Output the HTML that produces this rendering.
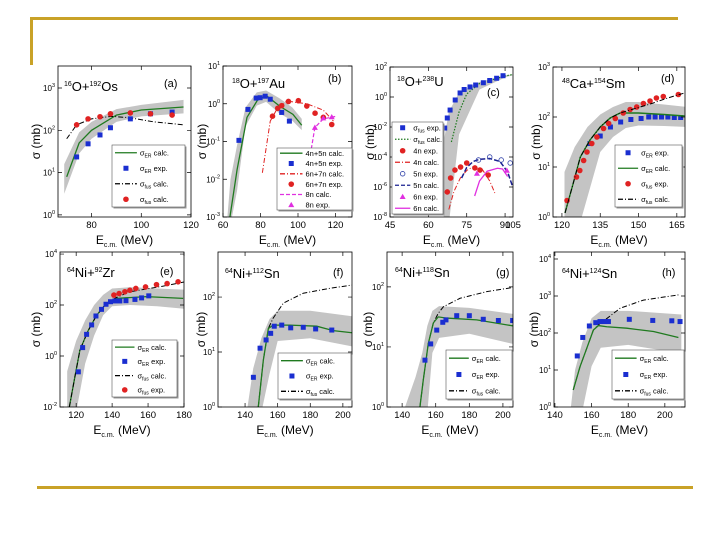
<!DOCTYPE html>
<html><head><meta charset="utf-8"><style>
html,body{margin:0;padding:0;background:#fff;}
svg{display:block;font-family:"Liberation Sans",sans-serif;}
</style></head><body>
<svg id="fig" width="720" height="540" viewBox="0 0 720 540" xmlns="http://www.w3.org/2000/svg">
<rect x="0" y="0" width="720" height="540" fill="#fff"/>
<rect x="30" y="17" width="648" height="3" fill="#c9a227"/>
<rect x="30" y="17" width="3" height="48" fill="#c9a227"/>
<rect x="37" y="486" width="656" height="3" fill="#c9a227"/>
</svg>
<script>
// ---- data (E in MeV, values are log10 of sigma in mb) ----
const aGreenE=[70,75,80,90,100,117];
const aGreenL=[0.9,1.7,2.0,2.36,2.48,2.55];
const aBlueE=[74,78.6,83.4,87.6,95.6,103.7,112.4];
const aBlueL=[1.37,1.68,1.89,2.06,2.27,2.39,2.43];
const aRedE=[74,78.6,83.4,87.6,95.6,103.7,112.4];
const aRedL=[2.13,2.27,2.32,2.39,2.41,2.39,2.36];
const aFusE=[70,74,80,88,95,105,117];
const aFusL=[1.8,2.13,2.27,2.33,2.3,2.2,2.13];
const aBandE=[69,75,80,90,100,117];
const aBandHi=[1.2,1.95,2.2,2.5,2.6,2.72];
const aBandLo=[0.5,1.45,1.8,2.2,2.33,2.4];

const bGreenE=[63.7,67.5,72.8,78.7,83.5,90.4,97.3,102];
const bGreenL=[-3,-1.75,-0.36,0.12,0.2,-0.07,-0.28,-0.57];
const bBlueE=[68.5,73.3,77.7,79.8,82.5,85.2,91.3,95.4];
const bBlueL=[-0.97,-0.15,0.15,0.16,0.2,0.12,-0.23,-0.46];
const bRedCalcE=[81,85.2,88.7,94,104.7,113.5,118.9];
const bRedCalcL=[-1.83,-0.46,-0.15,0.07,0,-0.17,-0.46];
const bRedE=[86.4,89.2,91.3,94.9,100.2,104.7,109.1,113.5,118];
const bRedL=[-0.33,-0.12,-0.05,0.06,0.08,-0.06,-0.25,-0.36,-0.55];
const bMagCalcE=[105.5,109,113.5,120.6];
const bMagCalcL=[-1.67,-0.63,-0.4,-0.33];
const bMagE=[109,113.5,118];
const bMagL=[-0.63,-0.38,-0.35];
const bBandE=[62,64,67.5,72,78,83,90,97,102];
const bBandHi=[-3.2,-2,-1.1,-0.1,0.3,0.35,0.15,-0.1,-0.4];
const bBandLo=[-3.2,-3.2,-2.3,-0.6,-0.05,0.05,-0.25,-0.45,-0.7];

const cBlueE=[66.4,67.4,68.5,70.5,72.4,74,76.3,78.5,81.5,84,86.7,89.2];
const cBlueL=[-2.07,-1.4,-0.87,-0.2,0.27,0.5,0.67,0.8,0.95,1.1,1.25,1.42];
const cGreenE=[69,72,75,80,90,93];
const cGreenL=[-3,-1,0.2,0.9,1.4,1.5];
const cBandE=[66,68,72,80,90,93];
const cBandHi=[-3,-1,0.3,1.0,1.45,1.5];
const cBandLo=[-8.5,-8.5,-2.5,0.5,1.3,1.45];
const c4nE=[67.4,68.7,70.4,72.6,75,78.2,80.2,83.4];
const c4nL=[-6.33,-5.4,-4.87,-4.67,-4.4,-4.73,-4.87,-5.2];
const c4nCalcE=[68,70,72.5,75,78,81,84,86];
const c4nCalcL=[-7.5,-6.3,-5.4,-4.9,-4.6,-4.8,-5.6,-6.4];
const c5nCalcE=[73,75,77.5,80,84,88,91,93];
const c5nCalcL=[-5.4,-4.7,-4.3,-4.15,-4.1,-4.3,-5.0,-6.0];
const c5nE=[79.6,84,88.5,92];
const c5nL=[-4.2,-4.0,-4.2,-4.4];
const c6nCalcE=[78.1,80,83,87,89,91];
const c6nCalcL=[-6.6,-5.6,-4.95,-4.75,-4.8,-5.3];
const c6nE=[79,90.7];
const c6nL=[-5.1,-4.9];

const dFusCalcE=[121.2,124.4,127.2,131,135,138.9,142.8,148,154.6,161.4,168];
const dFusCalcL=[0.08,0.67,1.2,1.54,1.8,1.98,2.08,2.16,2.26,2.38,2.48];
const dGreenE=[121.2,124.4,127.2,131,135,138.9,142.8,150,160,168];
const dGreenL=[0.08,0.67,1.2,1.54,1.8,1.98,2.08,2.08,2.05,2.02];
const dBlueE=[131,135,139,143,147,151,154,156.5,159,161.5,164,166.5];
const dBlueL=[1.47,1.62,1.8,1.9,1.95,1.97,2.0,2.0,2.0,2.0,1.99,1.99];
const dRedE=[122,125.7,127,128.5,129.8,131.7,133.7,136.3,138.3,140.9,144,146.7,149.3,151.9,154.5,157,159.7,165.6];
const dRedL=[0.33,0.8,0.93,1.13,1.3,1.47,1.6,1.77,1.87,1.97,2.08,2.15,2.2,2.27,2.32,2.38,2.41,2.45];
const dBandE=[121,125,130,135,140,145,150,160,169];
const dBandHi=[0.9,1.4,1.8,2.05,2.2,2.3,2.3,2.25,2.2];
const dBandLo=[-1,-0.5,0.4,1.3,1.6,1.78,1.83,1.82,1.8];

const eGreenE=[116.2,119.3,122.1,126.7,131.4,136.9,142.5,159,179.5];
const eGreenL=[-2,-0.81,0.24,1.0,1.6,2.07,2.26,2.33,2.26];
const eFusCalcE=[116.2,119.3,122.1,126.7,131.4,136.9,142.5,149.9,168.4,180.4];
const eFusCalcL=[-2,-0.81,0.24,1.0,1.6,2.07,2.3,2.52,2.74,2.91];
const eBlueE=[121.2,123.6,125.8,128.6,131,134.1,136.6,139.1,141.6,144.3,147.7,152.7,156.4,160.4];
const eBlueL=[-0.62,0.33,0.85,1.22,1.57,1.83,2.03,2.13,2.16,2.16,2.17,2.22,2.28,2.36];
const eRedE=[141,143.9,147.1,149.9,153.2,158.6,164.7,170.6,176.7];
const eRedL=[2.39,2.45,2.52,2.58,2.65,2.71,2.8,2.84,2.91];
const eBandE=[115,120,125,130,135,140,150,165,181];
const eBandHi=[-0.6,0.6,1.4,2.0,2.4,2.65,2.7,2.65,2.6];
const eBandLo=[-2.2,-2.2,-0.3,0.8,1.6,1.95,2.0,1.95,1.85];

const fGreenE=[148.1,151.2,154.3,157.3,167.6,184,187.8,194.1,206];
const fGreenL=[0,0.85,1.43,1.49,1.49,1.47,1.44,1.39,1.35];
const fFusCalcE=[148.1,151.2,154.3,157.3,163.5,175.7,192.1,206];
const fFusCalcL=[0,0.85,1.43,1.62,1.89,2.07,2.16,2.22];
const fBlueE=[145.1,149.2,152.9,155.7,157.9,162.5,168,175.7,183.3,193.2];
const fBlueL=[0.54,1.07,1.22,1.34,1.47,1.49,1.44,1.45,1.42,1.4];
const fBandE=[141,145,150,155,160,180,206];
const fBandHi=[-0.1,0.7,1.25,1.6,1.75,1.75,1.65];
const fBandLo=[-0.1,-0.1,-0.1,0.6,1.2,1.25,1.1];

const gGreenE=[150.6,152.6,155.6,158.6,161.5,166.5,184.4,206];
const gGreenL=[0,0.45,1.06,1.4,1.5,1.48,1.45,1.35];
const gFusCalcE=[150.6,152.6,155.6,158.6,161.5,164.6,174.5,190.3,206];
const gFusCalcL=[0,0.45,1.06,1.4,1.56,1.67,1.81,1.92,1.99];
const gBlueE=[153.6,157,160.6,164.2,166.1,172.5,180,188.3,197.3,205.8];
const gBlueL=[0.78,1.05,1.28,1.41,1.45,1.52,1.52,1.46,1.44,1.44];
const gBandE=[140.5,148,152,155,158,162,180,206];
const gBandHi=[-0.1,0.5,0.9,1.35,1.6,1.68,1.65,1.55];
const gBandLo=[-0.1,-0.1,-0.1,-0.1,0.9,1.15,1.22,1.05];

const hGreenE=[150,153.7,157.4,161,163.7,168.3,179.2,193.8,207.4];
const hGreenL=[0.46,1.09,1.59,2.08,2.2,2.17,2.13,2.04,1.88];
const hFusCalcE=[150,153.7,157.4,161,163.7,168.3,175.6,188.3,207.4];
const hFusCalcL=[0.46,1.09,1.59,2.08,2.22,2.39,2.67,2.89,3.03];
const hBlueE=[152.2,155.2,158.8,162.3,164.6,166.8,169.2,180.6,193.4,203.8,208.3];
const hBlueL=[1.38,1.88,2.19,2.28,2.31,2.31,2.31,2.37,2.34,2.33,2.31];
const hBandE=[148.5,151,155,160,165,180,209];
const hBandHi=[-0.1,1.0,1.75,2.4,2.6,2.6,2.5];
const hBandLo=[-0.1,-0.1,-0.1,1.1,1.6,1.68,1.45];

// ---- layout ----
const NS="http://www.w3.org/2000/svg";
const svg=document.getElementById('fig');
const GREEN="#1f7a1f", BLUE="#1a2ed0", RED="#e02222", MAG="#e030e0", GRAY="#c4c4c4";
let clipId=0;
function el(tag,parent){const e=document.createElementNS(NS,tag);parent.appendChild(e);return e;}

function makePanel(key,box,xr,yr,xticks,yticks,title,tag,titlePos,tagPos,ylabX){
  const [x0,y0,x1,y1]=box;
  const sx=v=>x0+(v-xr[0])/(xr[1]-xr[0])*(x1-x0);
  const sy=v=>y1-(v-yr[0])/(yr[1]-yr[0])*(y1-y0);
  const g=el('g',svg);
  
  
  const cp=el('clipPath',g);const id='cp'+(clipId++);cp.setAttribute('id',id);
  const cr=el('rect',cp);cr.setAttribute('x',x0);cr.setAttribute('y',y0);cr.setAttribute('width',x1-x0);cr.setAttribute('height',y1-y0);
  const plot=el('g',g);plot.setAttribute('clip-path','url(#'+id+')');
  
  
  const fr=el('rect',g);
  fr.setAttribute('x',x0);fr.setAttribute('y',y0);fr.setAttribute('width',x1-x0);fr.setAttribute('height',y1-y0);
  fr.setAttribute('fill','none');fr.setAttribute('stroke','#000');fr.setAttribute('stroke-width','0.8');
  
  
  xticks.forEach(t=>{
    const X=sx(t);
    const l=el('path',g);l.setAttribute('d',`M${X},${y1}v-4M${X},${y0}v4`);l.setAttribute('stroke','#000');l.setAttribute('stroke-width','0.7');
    
    
    const tx=el('text',g);tx.setAttribute('x',X);tx.setAttribute('y',y1+11);tx.setAttribute('text-anchor','middle');tx.setAttribute('font-size','9.5');tx.textContent=t;
    
    
  });
  yticks.forEach(t=>{
    const Y=sy(t);
    const l=el('path',g);l.setAttribute('d',`M${x0},${Y}h4M${x1},${Y}h-4`);l.setAttribute('stroke','#000');l.setAttribute('stroke-width','0.7');
    
    
    const tx=el('text',g);tx.setAttribute('x',x0-3);tx.setAttribute('y',Y+3);tx.setAttribute('text-anchor','end');tx.setAttribute('font-size','8');
    tx.innerHTML='10<tspan dy="-4" font-size="5.5">'+t+'</tspan>';
    
    
  });
  const ti=el('text',g);ti.setAttribute('x',titlePos[0]);ti.setAttribute('y',titlePos[1]);ti.setAttribute('font-size','13');
  ti.innerHTML=title;
  
  
  const tg=el('text',g);tg.setAttribute('x',tagPos[0]);tg.setAttribute('y',tagPos[1]);tg.setAttribute('font-size','11');tg.textContent=tag;
  
  
  const xl=el('text',g);xl.setAttribute('x',(x0+x1)/2);xl.setAttribute('y',y1+27);xl.setAttribute('text-anchor','middle');xl.setAttribute('font-size','12');
  xl.innerHTML='E<tspan dy="3" font-size="7">c.m.</tspan><tspan dy="-3"> (MeV)</tspan>';
  
  
  const yl=el('text',g);const cy=(y0+y1)/2;
  yl.setAttribute('transform',`translate(${ylabX},${cy}) rotate(-90)`);yl.setAttribute('text-anchor','middle');yl.setAttribute('font-size','12');yl.textContent='σ (mb)';
  
  
  return {sx,sy,plot,g};
}
function band(p,E,hi,lo,name){
  let d='M'+E.map((e,i)=>p.sx(e)+','+p.sy(hi[i])).join('L');
  for(let i=E.length-1;i>=0;i--) d+='L'+p.sx(E[i])+','+p.sy(lo[i]);
  const e=el('path',p.plot);e.setAttribute('d',d+'Z');e.setAttribute('fill',GRAY);
  
  
}
function line(p,E,L,color,dash,w,name){
  const e=el('path',p.plot);
  e.setAttribute('d','M'+E.map((v,i)=>p.sx(v)+','+p.sy(L[i])).join('L'));
  e.setAttribute('fill','none');e.setAttribute('stroke',color);e.setAttribute('stroke-width',w||1.3);
  if(dash)e.setAttribute('stroke-dasharray',dash);
  
  
}
function marker(parent,X,Y,type,color){
  let m;
  if(type==='sq'){m=el('rect',parent);m.setAttribute('x',X-2.5);m.setAttribute('y',Y-2.5);m.setAttribute('width',5);m.setAttribute('height',5);m.setAttribute('fill',color);}
  else if(type==='ci'){m=el('circle',parent);m.setAttribute('cx',X);m.setAttribute('cy',Y);m.setAttribute('r',2.8);m.setAttribute('fill',color);}
  else if(type==='oc'){m=el('circle',parent);m.setAttribute('cx',X);m.setAttribute('cy',Y);m.setAttribute('r',2.3);m.setAttribute('fill','none');m.setAttribute('stroke',color);m.setAttribute('stroke-width','0.8');}
  else {m=el('path',parent);m.setAttribute('d',`M${X},${Y-3}L${X+3},${Y+2.3}L${X-3},${Y+2.3}Z`);m.setAttribute('fill',color);}
  return m;
}
function points(p,E,L,type,color,name){
  E.forEach((v,i)=>{
    const m=marker(p.plot,p.sx(v),p.sy(L[i]),type,color);
    
    
  });
}
function legend(p,box,entries,key){
  const [x,y,w,h]=box;
  const g=el('g',p.g);
  
  
  const sh=el('rect',g);sh.setAttribute('x',x+1.5);sh.setAttribute('y',y+1.5);sh.setAttribute('width',w);sh.setAttribute('height',h);sh.setAttribute('fill','#999');
  const r=el('rect',g);r.setAttribute('x',x);r.setAttribute('y',y);r.setAttribute('width',w);r.setAttribute('height',h);r.setAttribute('fill','#fff');r.setAttribute('stroke','#555');r.setAttribute('stroke-width','0.6');
  const step=h/entries.length;
  entries.forEach((en,i)=>{
    const cy=y+step*(i+0.5);
    const eg=el('g',g);
    
    
    if(en.t==='line'){const l=el('path',eg);l.setAttribute('d',`M${x+3},${cy}h${w*0.3}`);l.setAttribute('stroke',en.c);l.setAttribute('stroke-width','1.3');if(en.d)l.setAttribute('stroke-dasharray',en.d);}
    else marker(eg,x+3+w*0.15,cy,en.t,en.c);
    const t=el('text',eg);t.setAttribute('x',x+6+w*0.3);t.setAttribute('y',cy+2.7);t.setAttribute('font-size','7.5');t.innerHTML=en.s;
  });
}
const sER='σ<tspan dy="2" font-size="5">ER</tspan><tspan dy="-2">';
const sFus='σ<tspan dy="2" font-size="5">fus</tspan><tspan dy="-2">';
const DD='5,2,1,2';

// panel a
const pa=makePanel('a',[58,66,191,217],[66.5,120],[-0.05,3.52],[80,100,120],[0,1,2,3],
 '<tspan dy="-5" font-size="7">16</tspan><tspan dy="5">O+</tspan><tspan dy="-5" font-size="7">192</tspan><tspan dy="5">Os</tspan>','(a)',[64,91],[164,87],40);
band(pa,aBandE,aBandHi,aBandLo,'uncertainty-band-a');
line(pa,aGreenE,aGreenL,GREEN,null,1.3,'er-calc-line-a');
line(pa,aFusE,aFusL,'#000',DD,1,'fus-calc-line-a');
points(pa,aBlueE,aBlueL,'sq',BLUE,'er-exp-point-a');
points(pa,aRedE,aRedL,'ci',RED,'fus-exp-point-a');
legend(pa,[112,145,73,62],[{t:'line',c:GREEN,s:sER+' calc.</tspan>'},{t:'sq',c:BLUE,s:sER+' exp.</tspan>'},{t:'line',c:'#000',d:DD,s:sFus+' calc.</tspan>'},{t:'ci',c:RED,s:sFus+' calc.</tspan>'}],'a');

// panel b
const pb=makePanel('b',[223,66,352,217],[60,128.8],[-3,1],[60,80,100,120],[-3,-2,-1,0,1],
 '<tspan dy="-5" font-size="7">18</tspan><tspan dy="5">O+</tspan><tspan dy="-5" font-size="7">197</tspan><tspan dy="5">Au</tspan>','(b)',[232,88],[328,82],206);
band(pb,bBandE,bBandHi,bBandLo,'uncertainty-band-b');
line(pb,bGreenE,bGreenL,GREEN,null,1.3,'4n5n-calc-line');
line(pb,bRedCalcE,bRedCalcL,RED,DD,1,'6n7n-calc-line');
line(pb,bMagCalcE,bMagCalcL,MAG,'4,2',1.2,'8n-calc-line');
points(pb,bBlueE,bBlueL,'sq',BLUE,'4n5n-exp-point');
points(pb,bRedE,bRedL,'ci',RED,'6n7n-exp-point');
points(pb,bMagE,bMagL,'tr',MAG,'8n-exp-point');
legend(pb,[277,148,75,62],[{t:'line',c:GREEN,s:'4n+5n calc.'},{t:'sq',c:BLUE,s:'4n+5n exp.'},{t:'line',c:RED,d:DD,s:'6n+7n calc.'},{t:'ci',c:RED,s:'6n+7n exp.'},{t:'line',c:MAG,d:'4,2',s:'8n calc.'},{t:'tr',c:MAG,s:'8n exp.'}],'b');

// panel c
const pc=makePanel('c',[390,67,513,217],[45,93.1],[-8,2],[45,60,75,90],[-8,-6,-4,-2,0,2],
 '<tspan dy="-5" font-size="7">18</tspan><tspan dy="5">O+</tspan><tspan dy="-5" font-size="7">238</tspan><tspan dy="5">U</tspan>','(c)',[397,86],[487,96],374);
{const t=el('text',pc.g);t.setAttribute('x',513);t.setAttribute('y',228);t.setAttribute('text-anchor','middle');t.setAttribute('font-size','9.5');t.textContent='105';
 
 }
band(pc,cBandE,cBandHi,cBandLo,'uncertainty-band-c');
line(pc,cGreenE,cGreenL,GREEN,'1.5,1.5',1.2,'fus-calc-line-c');
line(pc,c4nCalcE,c4nCalcL,RED,DD,1,'4n-calc-line');
line(pc,c5nCalcE,c5nCalcL,'#1a2090','5,2',1.5,'5n-calc-line');
line(pc,c6nCalcE,c6nCalcL,MAG,null,1.3,'6n-calc-line');
points(pc,cBlueE,cBlueL,'sq',BLUE,'fus-exp-point-c');
points(pc,c4nE,c4nL,'ci',RED,'4n-exp-point');
points(pc,c5nE,c5nL,'oc','#3344aa','5n-exp-point');
points(pc,c6nE,c6nL,'tr',MAG,'6n-exp-point');
legend(pc,[392,122,51,92],[{t:'sq',c:BLUE,s:sFus+' exp.</tspan>'},{t:'line',c:GREEN,d:'1.5,1.5',s:sFus+' calc.</tspan>'},{t:'ci',c:RED,s:'4n exp.'},{t:'line',c:RED,d:DD,s:'4n calc.'},{t:'oc',c:'#3344aa',s:'5n exp.'},{t:'line',c:'#1a2090',d:'4,2',s:'5n calc.'},{t:'tr',c:MAG,s:'6n exp.'},{t:'line',c:MAG,s:'6n calc.'}],'c');

// panel d
const pd=makePanel('d',[553,67,685,217],[116.5,168.2],[0,3],[120,135,150,165],[0,1,2,3],
 '<tspan dy="-5" font-size="7">48</tspan><tspan dy="5">Ca+</tspan><tspan dy="-5" font-size="7">154</tspan><tspan dy="5">Sm</tspan>','(d)',[562,88],[661,82],540);
band(pd,dBandE,dBandHi,dBandLo,'uncertainty-band-d');
points(pd,dBlueE,dBlueL,'sq',BLUE,'er-exp-point-d');
line(pd,dGreenE,dGreenL,GREEN,null,1.4,'er-calc-line-d');
points(pd,dRedE,dRedL,'ci',RED,'fus-exp-point-d');
line(pd,dFusCalcE,dFusCalcL,'#000',DD,1,'fus-calc-line-d');
legend(pd,[615,145,67,62],[{t:'sq',c:BLUE,s:sER+' exp.</tspan>'},{t:'line',c:GREEN,s:sER+' calc.</tspan>'},{t:'ci',c:RED,s:sFus+' exp.</tspan>'},{t:'line',c:'#000',d:DD,s:sFus+' calc.</tspan>'}],'d');

// panel e
const pe=makePanel('e',[60,252,184,407],[111,180],[-2,4.08],[120,140,160,180],[-2,0,2,4],
 '<tspan dy="-5" font-size="7">64</tspan><tspan dy="5">Ni+</tspan><tspan dy="-5" font-size="7">92</tspan><tspan dy="5">Zr</tspan>','(e)',[67,277],[160,275],40);
band(pe,eBandE,eBandHi,eBandLo,'uncertainty-band-e');
line(pe,eGreenE,eGreenL,GREEN,null,1.3,'er-calc-line-e');
line(pe,eFusCalcE,eFusCalcL,'#000',DD,1,'fus-calc-line-e');
points(pe,eBlueE,eBlueL,'sq',BLUE,'er-exp-point-e');
points(pe,eRedE,eRedL,'ci',RED,'fus-exp-point-e');
legend(pe,[112,340,65,57],[{t:'line',c:GREEN,s:sER+' calc.</tspan>'},{t:'sq',c:BLUE,s:sER+' exp.</tspan>'},{t:'line',c:'#000',d:DD,s:sFus+' calc.</tspan>'},{t:'ci',c:RED,s:sFus+' exp.</tspan>'}],'e');

// panel f
const pf=makePanel('f',[218,252,352,407],[123.4,205.6],[0,2.82],[140,160,180,200],[0,1,2],
 '<tspan dy="-5" font-size="7">64</tspan><tspan dy="5">Ni+</tspan><tspan dy="-5" font-size="7">112</tspan><tspan dy="5">Sn</tspan>','(f)',[225,278],[333,276],205);
band(pf,fBandE,fBandHi,fBandLo,'uncertainty-band-f');
line(pf,fFusCalcE,fFusCalcL,'#000',DD,1,'fus-calc-line-f');
line(pf,fGreenE,fGreenL,GREEN,null,1.3,'er-calc-line-f');
points(pf,fBlueE,fBlueL,'sq',BLUE,'er-exp-point-f');
legend(pf,[278,353,73,46],[{t:'line',c:GREEN,s:sER+' calc.</tspan>'},{t:'sq',c:BLUE,s:sER+' exp.</tspan>'},{t:'line',c:'#000',d:DD,s:sFus+' calc.</tspan>'}],'f');

// panel g
const pg=makePanel('g',[387,252,513,407],[131,206],[0,2.58],[140,160,180,200],[0,1,2],
 '<tspan dy="-5" font-size="7">64</tspan><tspan dy="5">Ni+</tspan><tspan dy="-5" font-size="7">118</tspan><tspan dy="5">Sn</tspan>','(g)',[395,277],[496,276],372);
band(pg,gBandE,gBandHi,gBandLo,'uncertainty-band-g');
line(pg,gFusCalcE,gFusCalcL,'#000',DD,1,'fus-calc-line-g');
line(pg,gGreenE,gGreenL,GREEN,null,1.3,'er-calc-line-g');
points(pg,gBlueE,gBlueL,'sq',BLUE,'er-exp-point-g');
legend(pg,[446,350,66,49],[{t:'line',c:GREEN,s:sER+' calc.</tspan>'},{t:'sq',c:BLUE,s:sER+' exp.</tspan>'},{t:'line',c:'#000',d:DD,s:sFus+' calc.</tspan>'}],'g');

// panel h
const ph=makePanel('h',[554,252,685,407],[139.5,211],[0,4.19],[140,160,180,200],[0,1,2,3,4],
 '<tspan dy="-5" font-size="7">64</tspan><tspan dy="5">Ni+</tspan><tspan dy="-5" font-size="7">124</tspan><tspan dy="5">Sn</tspan>','(h)',[562,278],[662,276],538);
band(ph,hBandE,hBandHi,hBandLo,'uncertainty-band-h');
line(ph,hFusCalcE,hFusCalcL,'#000',DD,1,'fus-calc-line-h');
line(ph,hGreenE,hGreenL,GREEN,null,1.3,'er-calc-line-h');
points(ph,hBlueE,hBlueL,'sq',BLUE,'er-exp-point-h');
legend(ph,[612,350,72,49],[{t:'line',c:GREEN,s:sER+' calc.</tspan>'},{t:'sq',c:BLUE,s:sER+' exp.</tspan>'},{t:'line',c:'#000',d:DD,s:sFus+' calc.</tspan>'}],'h');
</script>
</body></html>
